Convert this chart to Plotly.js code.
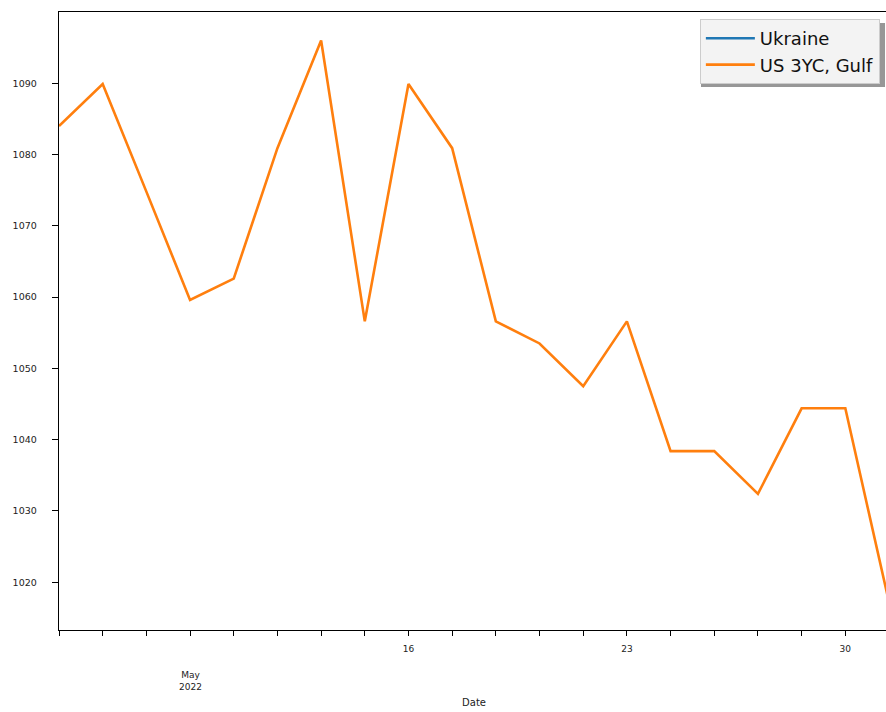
<!DOCTYPE html>
<html>
<head>
<meta charset="utf-8">
<script src="https://cdn.plot.ly/plotly-3.0.1.min.js"></script>
<style>
  html, body { margin: 0; padding: 0; overflow: hidden; background: #fff; width: 886px; height: 712px; }
  #chart { width: 900px; height: 726px; }
</style>
</head>
<body>
<div id="chart"></div>
<script>
// Business days, May 2022
const dates = ['2022-05-04','2022-05-05','2022-05-06','2022-05-09','2022-05-10','2022-05-11','2022-05-12','2022-05-13',
               '2022-05-16','2022-05-17','2022-05-18','2022-05-19','2022-05-20',
               '2022-05-23','2022-05-24','2022-05-25','2022-05-26','2022-05-27',
               '2022-05-30','2022-05-31'];
const usGulf = [1084.0, 1089.9, 1074.8, 1059.6, 1062.6, 1080.9, 1096.0, 1056.6,
                1089.9, 1080.9, 1056.6, 1053.5, 1047.5,
                1056.6, 1038.4, 1038.4, 1032.4, 1044.4,
                1044.4, 1017.2];
const ukraine = [null, null, null, null, null, null, null, null,
                 null, null, null, null, null,
                 null, null, null, null, null,
                 null, null];
const tickLabels = ['', '', '', '', '', '', '', '',
                    '16', '', '', '', '',
                    '23', '', '', '', '',
                    '30', ''];
const monthLabel = 'May<br>2022';
const monthLabelDate = '2022-05-09';
const seriesNames = ['Ukraine', 'US 3YC, Gulf'];
const yTicks = [1020, 1030, 1040, 1050, 1060, 1070, 1080, 1090];

const font = 'DejaVu Sans, sans-serif';

const traces = [
  { x: dates, y: ukraine, name: seriesNames[0], type: 'scatter', mode: 'lines',
    line: { color: '#1f77b4', width: 2.6 } },
  { x: dates, y: usGulf, name: seriesNames[1], type: 'scatter', mode: 'lines',
    line: { color: '#ff7f0e', width: 2.6 } }
];

const layout = {
  width: 900, height: 726,
  margin: { l: 59, r: 11, t: 12, b: 96 },
  paper_bgcolor: '#ffffff', plot_bgcolor: '#ffffff',
  font: { family: font, color: '#222222', size: 9 },
  showlegend: true,
  legend: {
    x: 0.989, xanchor: 'right', y: 0.9887, yanchor: 'top',
    bgcolor: '#f3f3f3', bordercolor: '#cccccc', borderwidth: 1,
    font: { family: font, size: 18, color: '#111111' },
    itemwidth: 49,
    tracegroupgap: 0
  },
  xaxis: {
    type: 'date',
    range: [dates[0], dates[dates.length - 1]],
    rangebreaks: [{ bounds: ['sat', 'mon'] }],
    tickmode: 'array', tickvals: dates, ticktext: tickLabels,
    ticks: 'outside', ticklen: 5, tickwidth: 1, tickcolor: '#000',
    ticklabelstandoff: 5,
    tickfont: { family: font, size: 9, color: '#222' },
    showgrid: false, zeroline: false,
    showline: true, linecolor: '#000', linewidth: 1.3, mirror: true,
    title: { text: 'Date', font: { family: font, size: 10, color: '#222' }, standoff: 46 }
  },
  yaxis: {
    range: [1013.3, 1100.0],
    tickmode: 'array', tickvals: yTicks,
    ticks: 'outside', ticklen: 6, tickwidth: 1, tickcolor: '#000',
    ticklabelstandoff: 13,
    tickfont: { family: font, size: 9.5, color: '#222' },
    showgrid: false, zeroline: false,
    showline: true, linecolor: '#000', linewidth: 1.3, mirror: true
  },
  annotations: [
    { x: monthLabelDate, xref: 'x', y: -0.062, yref: 'paper', yanchor: 'top',
      text: monthLabel, showarrow: false, align: 'center',
      font: { family: font, size: 9, color: '#222' } }
  ],
  shapes: [
    { type: 'rect', xref: 'paper', yref: 'paper', layer: 'above',
      x0: 0.7735, x1: 0.9952, y0: 0.8786, y1: 0.9822,
      fillcolor: '#8c8c8c', line: { width: 0 }, opacity: 0.9 }
  ]
};

Plotly.newPlot('chart', traces, layout, { displayModeBar: false, staticPlot: true });
</script>
</body>
</html>
